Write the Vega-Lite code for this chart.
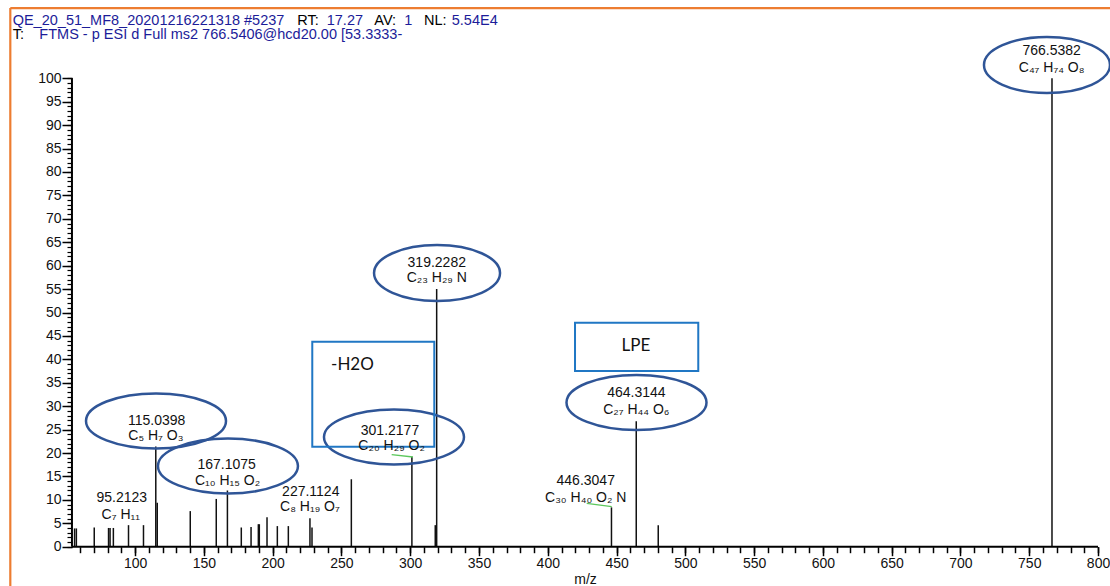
{
  "$schema": "https://vega.github.io/schema/vega-lite/v6.json",
  "width": 1110,
  "height": 586,
  "padding": 0,
  "autosize": {"type": "none"},
  "background": "white",
  "config": {"view": {"stroke": null}, "font": "Liberation Sans"},
  "datasets": {
    "peaks": [
      {"mz": 56.0, "intensity": 3.9}, {"mz": 57.3, "intensity": 3.9}, {"mz": 70.3, "intensity": 4.1},
      {"mz": 80.7, "intensity": 4.0}, {"mz": 81.8, "intensity": 4.0}, {"mz": 84.2, "intensity": 4.0},
      {"mz": 95.21, "intensity": 4.6}, {"mz": 106.1, "intensity": 4.6}, {"mz": 115.04, "intensity": 21.4},
      {"mz": 116.1, "intensity": 9.4}, {"mz": 140.1, "intensity": 7.6}, {"mz": 159.0, "intensity": 10.2},
      {"mz": 167.11, "intensity": 12.0}, {"mz": 177.2, "intensity": 4.1}, {"mz": 184.3, "intensity": 4.2},
      {"mz": 189.6, "intensity": 4.8}, {"mz": 190.3, "intensity": 4.8}, {"mz": 195.9, "intensity": 6.3},
      {"mz": 203.4, "intensity": 4.4}, {"mz": 211.4, "intensity": 4.4}, {"mz": 227.11, "intensity": 6.1},
      {"mz": 228.6, "intensity": 4.1}, {"mz": 257.2, "intensity": 14.4}, {"mz": 301.22, "intensity": 19.2},
      {"mz": 318.2, "intensity": 4.6}, {"mz": 319.23, "intensity": 55.0}, {"mz": 446.30, "intensity": 8.4},
      {"mz": 464.31, "intensity": 26.8}, {"mz": 480.3, "intensity": 4.6}, {"mz": 766.54, "intensity": 100}
    ],
    "labels": [
      {"mz": 766.3, "y": 105.83, "text": "766.5382"}, {"mz": 766.3, "y": 102.2, "text": "C₄₇ H₇₄ O₈"},
      {"mz": 319.3, "y": 60.57, "text": "319.2282"}, {"mz": 319.3, "y": 57.37, "text": "C₂₃ H₂₉ N"},
      {"mz": 464.4, "y": 32.71, "text": "464.3144"}, {"mz": 464.4, "y": 29.18, "text": "C₂₇ H₄₄ O₆"},
      {"mz": 285.3, "y": 24.8, "text": "301.2177"}, {"mz": 286.5, "y": 21.55, "text": "C₂₀ H₂₉ O₂"},
      {"mz": 115.7, "y": 26.94, "text": "115.0398"}, {"mz": 115.1, "y": 23.63, "text": "C₅ H₇ O₃"},
      {"mz": 166.6, "y": 17.44, "text": "167.1075"}, {"mz": 167.2, "y": 14.03, "text": "C₁₀ H₁₅ O₂"},
      {"mz": 90.3, "y": 10.33, "text": "95.2123"}, {"mz": 89.6, "y": 6.77, "text": "C₇ H₁₁"},
      {"mz": 227.7, "y": 11.74, "text": "227.1124"}, {"mz": 227.1, "y": 8.37, "text": "C₈ H₁₉ O₇"},
      {"mz": 427.6, "y": 14.07, "text": "446.3047"}, {"mz": 427.6, "y": 10.5, "text": "C₃₀ H₄₀ O₂ N"}
    ],
    "ellipses": [
      {"label": "766.5382", "mz": 762.9, "y": 102.84}, {"label": "319.2282", "mz": 319.5, "y": 58.43},
      {"label": "464.3144", "mz": 464.5, "y": 30.79}, {"label": "301.2177", "mz": 288.2, "y": 23.42},
      {"label": "115.0398", "mz": 115.2, "y": 26.84}, {"label": "167.1075", "mz": 167.5, "y": 17.23}
    ],
    "boxes": [
      {"x": 228.8, "x2": 317.5, "y": 43.77, "y2": 21.35},
      {"x": 419.8, "x2": 509.4, "y": 47.82, "y2": 37.51}
    ],
    "boxlabels": [
      {"mz": 258.0, "y": 38.79, "text": "-H2O"},
      {"mz": 464.1, "y": 42.85, "text": "LPE"}
    ],
    "leaders": [
      {"x": 286.5, "y": 19.68, "x2": 302.0, "y2": 19.15},
      {"x": 428.3, "y": 9.27, "x2": 446.5, "y2": 8.54}
    ],
    "axislines": [
      {"x": 54.1, "x2": 800, "y": 0, "y2": 0},
      {"x": 54.1, "x2": 54.1, "y": 0, "y2": 100}
    ],
    "frame": [
      {"x": 9.28, "x2": 808.71, "y": 115.0, "y2": 115.0},
      {"x": 9.28, "x2": 9.28, "y": 115.0, "y2": -8.39}
    ],
    "header": [
      {"x": 11.0, "y": 111.38, "text": "QE_20_51_MF8_20201216221318 #5237", "role": "value"},
      {"x": 217.9, "y": 111.38, "text": "RT:", "role": "key"},
      {"x": 239.3, "y": 111.38, "text": "17.27", "role": "value"},
      {"x": 273.9, "y": 111.38, "text": "AV:", "role": "key"},
      {"x": 295.7, "y": 111.38, "text": "1", "role": "value"},
      {"x": 310.0, "y": 111.38, "text": "NL:", "role": "key"},
      {"x": 330.2, "y": 111.38, "text": "5.54E4", "role": "value"},
      {"x": 11.0, "y": 108.33, "text": "T:", "role": "key"},
      {"x": 30.4, "y": 108.33, "text": "FTMS - p ESI d Full ms2 766.5406@hcd20.00 [53.3333-", "role": "value"}
    ]
  },
  "resolve": {"axis": {"x": "independent", "y": "independent"}},
  "layer": [
    {
      "data": {"name": "peaks"},
      "mark": {"type": "rule", "color": "#111111", "strokeWidth": 1.5},
      "encoding": {
        "x": {"field": "mz", "type": "quantitative", "scale": {"domain": [1.79, 808.71], "nice": false, "zero": false},
          "axis": {"orient": "bottom", "offset": -39.3, "values": [100, 150, 200, 250, 300, 350, 400, 450, 500, 550, 600, 650, 700, 750, 800],
            "domain": false, "grid": false, "tickSize": 9, "tickWidth": 1.5, "tickColor": "#000000",
            "labelFont": "Liberation Sans", "labelFontSize": 14, "labelColor": "#111111", "labelPadding": 1,
            "labelFlush": false, "labelOverlap": false,
            "title": "m/z", "titleFont": "Liberation Sans", "titleFontSize": 14, "titleFontWeight": "normal", "titleColor": "#111111",
            "titleX": 585, "titleY": 36.5, "titleBaseline": "alphabetic", "titleAlign": "center"}},
        "y": {"field": "intensity", "type": "quantitative", "scale": {"domain": [-8.39, 116.72], "nice": false, "zero": false},
          "axis": {"orient": "left", "offset": -72, "values": [0, 5, 10, 15, 20, 25, 30, 35, 40, 45, 50, 55, 60, 65, 70, 75, 80, 85, 90, 95, 100],
            "domain": false, "grid": false, "tickSize": 10, "tickWidth": 1.5, "tickColor": "#000000",
            "labelFont": "Liberation Sans", "labelFontSize": 14, "labelColor": "#111111", "labelPadding": 1,
            "labelFlush": false, "labelOverlap": false, "title": null}},
        "y2": {"datum": 0}
      }
    },
    {
      "data": {"name": "peaks"},
      "mark": {"type": "rule", "opacity": 0},
      "encoding": {
        "x": {"field": "mz", "type": "quantitative", "scale": {"domain": [1.79, 808.71], "nice": false, "zero": false},
          "axis": {"orient": "bottom", "offset": -39.3, "values": [60, 70, 80, 90, 100, 110, 120, 130, 140, 150, 160, 170, 180, 190, 200, 210, 220, 230, 240, 250, 260, 270, 280, 290, 300, 310, 320, 330, 340, 350, 360, 370, 380, 390, 400, 410, 420, 430, 440, 450, 460, 470, 480, 490, 500, 510, 520, 530, 540, 550, 560, 570, 580, 590, 600, 610, 620, 630, 640, 650, 660, 670, 680, 690, 700, 710, 720, 730, 740, 750, 760, 770, 780, 790, 800],
            "domain": false, "grid": false, "labels": false, "tickSize": 6, "tickWidth": 1.5, "tickColor": "#000000", "title": null}},
        "y": {"field": "intensity", "type": "quantitative", "scale": {"domain": [-8.39, 116.72], "nice": false, "zero": false},
          "axis": {"orient": "left", "offset": -72, "values": [0, 1, 2, 3, 4, 5, 6, 7, 8, 9, 10, 11, 12, 13, 14, 15, 16, 17, 18, 19, 20, 21, 22, 23, 24, 25, 26, 27, 28, 29, 30, 31, 32, 33, 34, 35, 36, 37, 38, 39, 40, 41, 42, 43, 44, 45, 46, 47, 48, 49, 50, 51, 52, 53, 54, 55, 56, 57, 58, 59, 60, 61, 62, 63, 64, 65, 66, 67, 68, 69, 70, 71, 72, 73, 74, 75, 76, 77, 78, 79, 80, 81, 82, 83, 84, 85, 86, 87, 88, 89, 90, 91, 92, 93, 94, 95, 96, 97, 98, 99, 100],
            "domain": false, "grid": false, "labels": false, "tickSize": 5, "tickWidth": 1.2, "tickColor": "#000000", "title": null}},
        "y2": {"datum": 0}
      }
    },
    {
      "data": {"name": "axislines"},
      "mark": {"type": "rule", "color": "#000000", "strokeWidth": 2},
      "encoding": {
        "x": {"field": "x", "type": "quantitative", "scale": {"domain": [1.79, 808.71], "nice": false, "zero": false}, "axis": null},
        "x2": {"field": "x2"},
        "y": {"field": "y", "type": "quantitative", "scale": {"domain": [-8.39, 116.72], "nice": false, "zero": false}, "axis": null},
        "y2": {"field": "y2"}
      }
    },
    {
      "data": {"name": "frame"},
      "mark": {"type": "rule", "color": "#ED7D31", "strokeWidth": 2.2},
      "encoding": {
        "x": {"field": "x", "type": "quantitative", "scale": {"domain": [1.79, 808.71], "nice": false, "zero": false}, "axis": null},
        "x2": {"field": "x2"},
        "y": {"field": "y", "type": "quantitative", "scale": {"domain": [-8.39, 116.72], "nice": false, "zero": false}, "axis": null},
        "y2": {"field": "y2"}
      }
    },
    {
      "data": {"name": "ellipses"},
      "transform": [{"filter": {"not": {"field": "label", "oneOf": ["766.5382", "319.2282"]}}}],
      "mark": {"type": "point", "shape": "M -1 0 C -1 -0.217 -0.5523 -0.393 0 -0.393 C 0.5523 -0.393 1 -0.217 1 0 C 1 0.217 0.5523 0.393 0 0.393 C -0.5523 0.393 -1 0.217 -1 0 Z",
        "size": 19600, "filled": false, "color": "#2F5597", "strokeWidth": 2.5, "opacity": 1},
      "encoding": {
        "x": {"field": "mz", "type": "quantitative", "scale": {"domain": [1.79, 808.71], "nice": false, "zero": false}, "axis": null},
        "y": {"field": "y", "type": "quantitative", "scale": {"domain": [-8.39, 116.72], "nice": false, "zero": false}, "axis": null}
      }
    },
    {
      "data": {"name": "ellipses"},
      "transform": [{"filter": {"field": "label", "oneOf": ["766.5382", "319.2282"]}}],
      "mark": {"type": "point", "shape": "M -1 0 C -1 -0.2454 -0.5523 -0.444 0 -0.444 C 0.5523 -0.444 1 -0.2454 1 0 C 1 0.2454 0.5523 0.444 0 0.444 C -0.5523 0.444 -1 0.2454 -1 0 Z",
        "size": 15876, "filled": false, "color": "#2F5597", "strokeWidth": 2.5, "opacity": 1},
      "encoding": {
        "x": {"field": "mz", "type": "quantitative", "scale": {"domain": [1.79, 808.71], "nice": false, "zero": false}, "axis": null},
        "y": {"field": "y", "type": "quantitative", "scale": {"domain": [-8.39, 116.72], "nice": false, "zero": false}, "axis": null}
      }
    },
    {
      "data": {"name": "boxes"},
      "mark": {"type": "rect", "fillOpacity": 0, "stroke": "#2077C4", "strokeWidth": 2},
      "encoding": {
        "x": {"field": "x", "type": "quantitative", "scale": {"domain": [1.79, 808.71], "nice": false, "zero": false}, "axis": null},
        "x2": {"field": "x2"},
        "y": {"field": "y", "type": "quantitative", "scale": {"domain": [-8.39, 116.72], "nice": false, "zero": false}, "axis": null},
        "y2": {"field": "y2"}
      }
    },
    {
      "data": {"name": "leaders"},
      "mark": {"type": "rule", "color": "#5CC85C", "strokeWidth": 1.3},
      "encoding": {
        "x": {"field": "x", "type": "quantitative", "scale": {"domain": [1.79, 808.71], "nice": false, "zero": false}, "axis": null},
        "x2": {"field": "x2"},
        "y": {"field": "y", "type": "quantitative", "scale": {"domain": [-8.39, 116.72], "nice": false, "zero": false}, "axis": null},
        "y2": {"field": "y2"}
      }
    },
    {
      "data": {"name": "labels"},
      "mark": {"type": "text", "font": "Liberation Sans", "fontSize": 14, "align": "center", "baseline": "middle", "color": "#111111"},
      "encoding": {
        "x": {"field": "mz", "type": "quantitative", "scale": {"domain": [1.79, 808.71], "nice": false, "zero": false}, "axis": null},
        "y": {"field": "y", "type": "quantitative", "scale": {"domain": [-8.39, 116.72], "nice": false, "zero": false}, "axis": null},
        "text": {"field": "text"}
      }
    },
    {
      "data": {"name": "boxlabels"},
      "mark": {"type": "text", "font": "Lato", "fontSize": 17, "align": "center", "baseline": "middle", "color": "#111111"},
      "encoding": {
        "x": {"field": "mz", "type": "quantitative", "scale": {"domain": [1.79, 808.71], "nice": false, "zero": false}, "axis": null},
        "y": {"field": "y", "type": "quantitative", "scale": {"domain": [-8.39, 116.72], "nice": false, "zero": false}, "axis": null},
        "text": {"field": "text"}
      }
    },
    {
      "data": {"name": "header"},
      "mark": {"type": "text", "font": "Liberation Sans", "fontSize": 14.5, "align": "left", "baseline": "alphabetic"},
      "encoding": {
        "x": {"field": "x", "type": "quantitative", "scale": {"domain": [1.79, 808.71], "nice": false, "zero": false}, "axis": null},
        "y": {"field": "y", "type": "quantitative", "scale": {"domain": [-8.39, 116.72], "nice": false, "zero": false}, "axis": null},
        "text": {"field": "text"},
        "color": {"field": "role", "type": "nominal", "scale": {"domain": ["key", "value"], "range": ["#000000", "#1C1C99"]}, "legend": null}
      }
    }
  ]
}
